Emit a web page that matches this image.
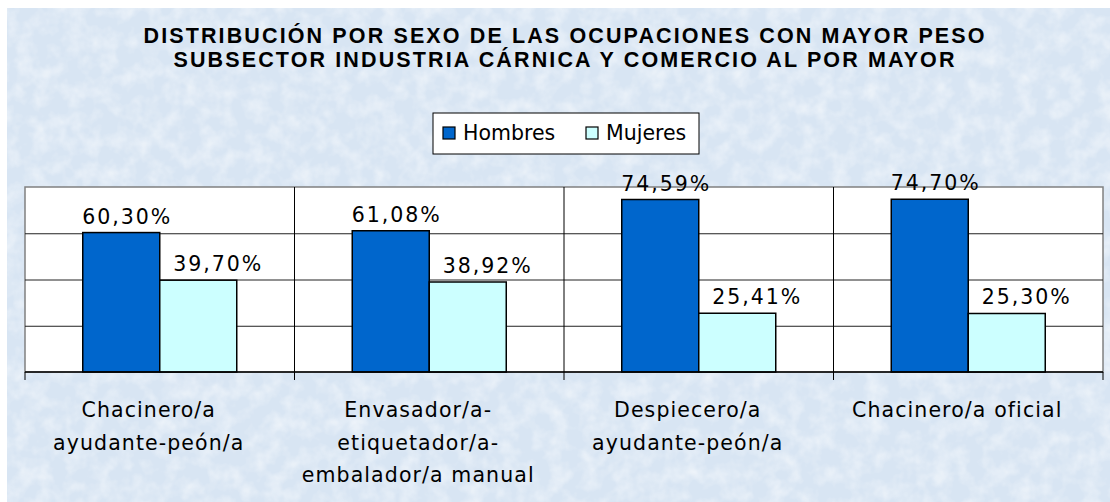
<!DOCTYPE html>
<html>
<head>
<meta charset="utf-8">
<script src="https://cdn.jsdelivr.net/npm/d3@7"></script>
<style>
  html, body { margin: 0; padding: 0; background: #fff; }
  svg { display: block; }
</style>
</head>
<body>
<div id="chart"></div>
<script>
// data
const titleLines = [
  'DISTRIBUCIÓN POR SEXO DE LAS OCUPACIONES CON MAYOR PESO',
  'SUBSECTOR INDUSTRIA CÁRNICA Y COMERCIO AL POR MAYOR',
]
const categories = [
  'Chacinero/a ayudante-peón/a',
  'Envasador/a- etiquetador/a- embalador/a manual',
  'Despiecero/a ayudante-peón/a',
  'Chacinero/a oficial',
]
const categoryLines = [
  ['Chacinero/a', 'ayudante-peón/a'],
  ['Envasador/a-', 'etiquetador/a-', 'embalador/a manual'],
  ['Despiecero/a', 'ayudante-peón/a'],
  ['Chacinero/a oficial'],
]
const series = ['Hombres', 'Mujeres']
const hombres = [60.3, 61.08, 74.59, 74.7]
const mujeres = [39.7, 38.92, 25.41, 25.3]
const yTicks = [0, 20, 40, 60, 80]

const colors = { Hombres: '#0066cc', Mujeres: '#ccffff' }

const width = 1110
const height = 502
const plot = { left: 25, right: 1103, top: 187, bottom: 372 }

const svg = d3
  .select('#chart')
  .append('svg')
  .attr('width', width)
  .attr('height', height)

const defs = svg.append('defs')
const filter = defs.append('filter').attr('id', 'tex')
filter
  .append('feTurbulence')
  .attr('type', 'fractalNoise')
  .attr('baseFrequency', 0.06)
  .attr('numOctaves', 3)
  .attr('seed', 7)
filter
  .append('feColorMatrix')
  .attr('type', 'matrix')
  .attr('values', '0 0 0 0 1  0 0 0 0 1  0 0 0 0 1  0 0 0 -1.6 1.0')

// textured background
svg
  .append('rect')
  .attr('x', 7)
  .attr('y', 8)
  .attr('width', width - 7)
  .attr('height', height - 8)
  .attr('fill', '#d8e5f3')
svg
  .append('rect')
  .attr('x', 7)
  .attr('y', 8)
  .attr('width', width - 7)
  .attr('height', height - 8)
  .attr('filter', 'url(#tex)')
  .attr('opacity', 0.6)

// title
const titleWidths = [841, 781]
svg
  .append('g')
  .selectAll('text')
  .data(titleLines)
  .join('text')
  .attr('x', 564)
  .attr('y', (d, i) => 43 + i * 24)
  .attr('text-anchor', 'middle')
  .attr('font-family', 'Liberation Sans, Arial, sans-serif')
  .attr('font-weight', 'bold')
  .attr('font-size', 21.5)
  .attr('textLength', (d, i) => titleWidths[i])
  .attr('lengthAdjust', 'spacing')
  .attr('fill', '#000')
  .text(d => d)

// scales
const x = d3
  .scaleBand()
  .domain(categories)
  .range([plot.left, plot.right])

const x1 = d3
  .scaleBand()
  .domain(series)
  .range([0, x.bandwidth()])
  .paddingOuter(0.75)

const y = d3
  .scaleLinear()
  .domain([0, 80])
  .range([plot.bottom, plot.top])

// plot area
svg
  .append('rect')
  .attr('x', plot.left)
  .attr('y', plot.top)
  .attr('width', plot.right - plot.left)
  .attr('height', plot.bottom - plot.top)
  .attr('fill', '#fff')
  .attr('stroke', '#808080')
  .attr('stroke-width', 1.5)

// gridlines
svg
  .append('g')
  .attr('transform', `translate(${plot.left},0)`)
  .call(
    d3
      .axisLeft(y)
      .tickValues(yTicks.slice(1, -1))
      .tickSize(-(plot.right - plot.left))
      .tickFormat('')
  )
  .call(g => g.select('.domain').remove())
  .call(g => g.selectAll('line').attr('stroke', '#222').attr('stroke-width', 1))

// category separators + ticks
const bounds = categories.map(c => x(c)).concat([plot.right])
svg
  .append('g')
  .selectAll('line')
  .data(bounds)
  .join('line')
  .attr('x1', d => d)
  .attr('x2', d => d)
  .attr('y1', (d, i) => (i === 0 || i === bounds.length - 1 ? plot.bottom : plot.top))
  .attr('y2', plot.bottom + 8)
  .attr('stroke', '#000')
  .attr('stroke-width', 1)

// bars
const rows = categories.map((c, i) => ({
  category: c,
  values: [
    { key: 'Hombres', value: hombres[i] },
    { key: 'Mujeres', value: mujeres[i] },
  ],
}))

const groups = svg
  .append('g')
  .selectAll('g')
  .data(rows)
  .join('g')
  .attr('transform', d => `translate(${x(d.category)},0)`)

groups
  .selectAll('rect')
  .data(d => d.values)
  .join('rect')
  .attr('x', d => x1(d.key))
  .attr('y', d => y(d.value))
  .attr('width', x1.bandwidth())
  .attr('height', d => y(0) - y(d.value))
  .attr('fill', d => colors[d.key])
  .attr('stroke', '#000')
  .attr('stroke-width', 1.5)

const fmt = v => v.toFixed(2).replace('.', ',') + '%'
const labelShift = { Hombres: 6, Mujeres: 20 }

groups
  .selectAll('text')
  .data(d => d.values)
  .join('text')
  .attr('x', d => x1(d.key) + x1.bandwidth() / 2 + labelShift[d.key])
  .attr('y', d => y(d.value) - 9)
  .attr('text-anchor', 'middle')
  .attr('font-family', 'DejaVu Sans, Verdana, sans-serif')
  .attr('font-size', 20.5)
  .attr('letter-spacing', 2)
  .attr('fill', '#000')
  .text(d => fmt(d.value))

// x axis line
svg
  .append('line')
  .attr('x1', plot.left)
  .attr('x2', plot.right)
  .attr('y1', plot.bottom)
  .attr('y2', plot.bottom)
  .attr('stroke', '#000')
  .attr('stroke-width', 1.5)

// category labels
svg
  .append('g')
  .selectAll('text')
  .data(categories)
  .join('text')
  .attr('x', d => x(d) + x.bandwidth() / 2 - 11)
  .attr('y', 417)
  .attr('text-anchor', 'middle')
  .attr('font-family', 'DejaVu Sans, Verdana, sans-serif')
  .attr('font-size', 20.5)
  .attr('letter-spacing', 1.1)
  .attr('fill', '#000')
  .selectAll('tspan')
  .data((d, i) => categoryLines[i])
  .join('tspan')
  .attr('x', function() {
    return this.parentNode.getAttribute('x')
  })
  .attr('dy', (d, i) => (i === 0 ? 0 : 32.5))
  .text(d => d)

// legend
const legend = svg.append('g').attr('transform', 'translate(433,113)')
legend
  .append('rect')
  .attr('width', 266)
  .attr('height', 41)
  .attr('fill', '#fff')
  .attr('stroke', '#000')
  .attr('stroke-width', 1)

const legendX = [10, 153]
const items = legend
  .selectAll('g')
  .data(series)
  .join('g')
  .attr('transform', (d, i) => `translate(${legendX[i]},14)`)

items
  .append('rect')
  .attr('width', 12)
  .attr('height', 12)
  .attr('fill', d => colors[d])
  .attr('stroke', '#000')
  .attr('stroke-width', 1.2)

items
  .append('text')
  .attr('x', 20)
  .attr('y', 13)
  .attr('font-family', 'DejaVu Sans, Verdana, sans-serif')
  .attr('font-size', 20.5)
  .attr('fill', '#000')
  .text(d => d)
</script>
</body>
</html>
